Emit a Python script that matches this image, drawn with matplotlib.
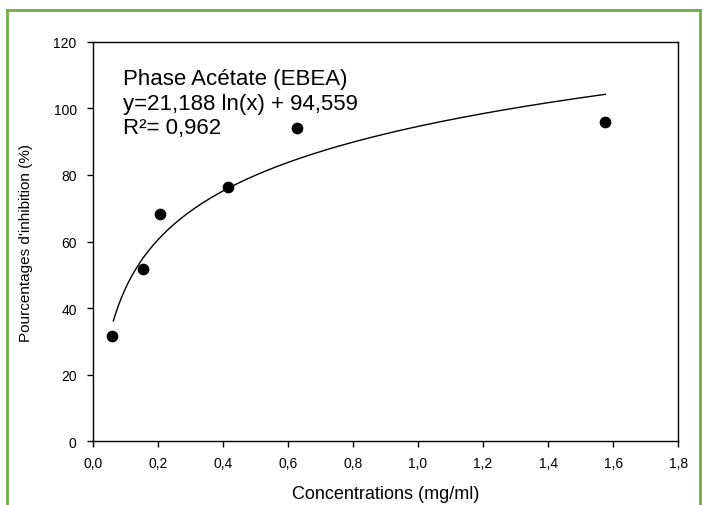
import numpy as np
import matplotlib.pyplot as plt
from matplotlib.lines import Line2D

plt.rcParams['font.family'] = ['Liberation Sans', 'DejaVu Sans']

# measured points
conc = np.array([0.058, 0.154, 0.207, 0.417, 0.628, 1.576])
inhib = np.array([31.5, 51.7, 68.2, 76.3, 94.0, 96.0])

# log fit reported on the chart
a, b = 21.188, 94.559
x_fit = np.linspace(0.0635, conc[-1], 300)
y_fit = a * np.log(x_fit) + b

x_ticks = np.arange(0, 1.81, 0.2)
y_ticks = np.arange(0, 121, 20)

fig = plt.figure(figsize=(7.02, 5.06), dpi=100)
ax = fig.add_axes([92.7 / 702, 1 - 442.3 / 506, 585.5 / 702, 399.6 / 506])

ax.plot(x_fit, y_fit, color='black', lw=1.0)
ax.scatter(conc, inhib, s=55, color='black', zorder=3)

ax.set_xlim(0, 1.8)
ax.set_ylim(0, 120)
ax.set_xticks(x_ticks)
ax.set_xticklabels([f'{t:.1f}'.replace('.', ',') for t in x_ticks])
ax.set_yticks(y_ticks)
ax.tick_params(direction='out', length=4.5, width=1, labelsize=10, colors='black')
ax.tick_params(axis='y', pad=7)
ax.tick_params(axis='x', pad=6)
for s in ax.spines.values():
    s.set_linewidth(1.0)

ax.set_xlabel('Concentrations (mg/ml)', fontsize=13, labelpad=11)
ax.set_ylabel("Pourcentages d'inhibition (%)", fontsize=11, labelpad=15)

ax.text(0.052, 0.933, 'Phase Acétate (EBEA)\ny=21,188 ln(x) + 94,559\nR²= 0,962',
        transform=ax.transAxes, fontsize=16, linespacing=1.2, va='top', ha='left')

# green frame around the figure
green = '#70AD47'
fig.lines.append(Line2D([7 / 702, 7 / 702], [0, 1 - 11 / 506], color=green, lw=2, transform=fig.transFigure))
fig.lines.append(Line2D([7 / 702, 700 / 702], [1 - 11 / 506, 1 - 11 / 506], color=green, lw=2, transform=fig.transFigure))
fig.lines.append(Line2D([700 / 702, 700 / 702], [0, 1 - 11 / 506], color=green, lw=2, transform=fig.transFigure))

fig.savefig('out.png', dpi=100)
